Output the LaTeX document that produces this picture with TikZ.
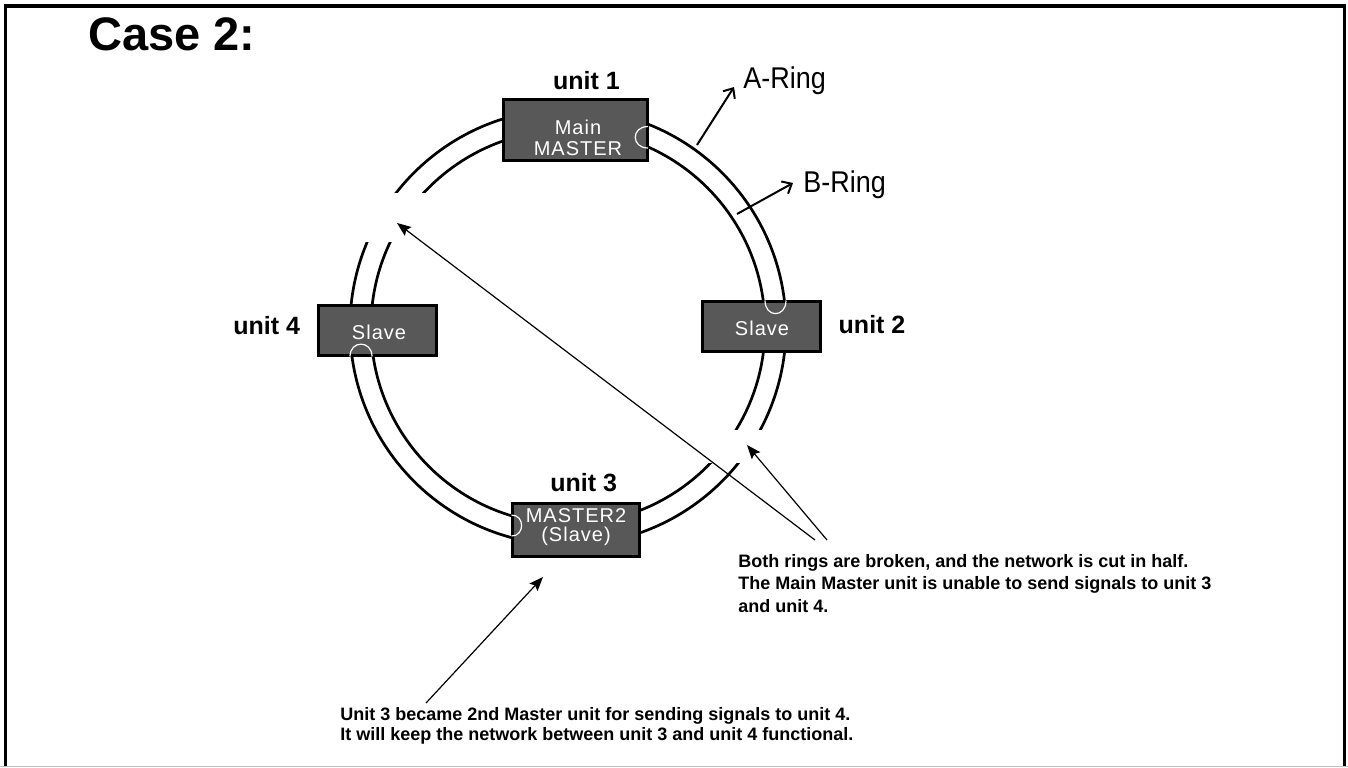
\documentclass[tikz,border=0pt]{standalone}
\usepackage{fontspec}
\setmainfont{Liberation Sans}
\newfontfamily\boxfont[LetterSpace=5]{Liberation Sans}
\newfontfamily\narrowfont[FakeStretch=0.9]{Liberation Sans}
\usetikzlibrary{arrows.meta}
\definecolor{boxgray}{RGB}{88,88,88}
\begin{document}
\begin{tikzpicture}[x=0.5pt,y=-0.5pt,
  unitbox/.style={draw=black, line width=1.4pt, fill=boxgray, inner sep=0pt},
  boxtext/.style={text=white, font=\boxfont\fontsize{10}{10.5}\selectfont, align=center, inner sep=0pt},
  unitlabel/.style={font=\bfseries\fontsize{12.5}{14}\selectfont, inner sep=0pt, anchor=base west},
  ringline/.style={line width=1.35pt},
  loopline/.style={white, line width=0.6pt},
  leader/.style={line width=0.6pt, -{Stealth[length=7pt,width=5.5pt,inset=1.2pt]}},
  ringarrow/.style={line width=1pt, -{Straight Barb[length=4pt,width=7pt]}},
  note/.style={font=\bfseries\fontsize{9}{11.25}\selectfont, align=left, inner sep=0pt, anchor=north west},
  ringname/.style={font=\narrowfont\fontsize{15}{17}\selectfont, inner sep=0pt, anchor=base west}]
\useasboundingbox (0,0) rectangle (1348,767);
% frame
\draw[line width=1.75pt] (5.3,767) -- (5.3,5.8) -- (1344.7,5.8) -- (1344.7,767);
\draw[black!25, line width=0.6pt] (0,766.3) -- (1348,766.3);
% title
\node[font=\bfseries\fontsize{23.5}{26}\selectfont, inner sep=0pt, anchor=base west] (title) at (88,50) {Case 2:};
% rings
\draw[ringline] (568,327) circle (218);
\draw[ringline] (568,327) circle (197);
% breaks in the rings
\fill[white] (340,193) rectangle (436,242);
\fill[white] (700,430) rectangle (778,463);
% units
\node[unitbox, minimum width=72.1pt, minimum height=30.6pt] (u1) at (575.5,130) {};
\node[unitbox, minimum width=59.1pt, minimum height=25.1pt] (u2) at (761.5,326.5) {};
\node[unitbox, minimum width=59.1pt, minimum height=25.1pt] (u4) at (377.5,330.5) {};
\node[unitbox, minimum width=63.6pt, minimum height=26.6pt] (u3) at (576,530) {};
\node[boxtext] (t1) at (578,138) {Main\\MASTER};
\node[boxtext] (t2) at (762,328) {Slave};
\node[boxtext] (t4) at (379,332.5) {Slave};
\node[boxtext, font=\boxfont\fontsize{10}{9.5}\selectfont] (t3) at (576,527.5) {MASTER2\\(Slave)};
% loop-backs
\draw[loopline] (648,126.5) .. controls (631,126.5) and (631,148) .. (648,148);
\draw[loopline] (765,300.5) .. controls (765,318) and (786,318) .. (786,300.5);
\draw[loopline] (350,356.5) .. controls (350,340) and (372,340) .. (372,356.5);
\draw[loopline] (511.5,515) .. controls (525,515) and (525,536) .. (511.5,536);
% unit labels
\node[unitlabel] (l1) at (552.7,89.3) {unit 1};
\node[unitlabel] (l2) at (838.3,333.3) {unit 2};
\node[unitlabel] (l4) at (233,334) {unit 4};
\node[unitlabel] (l3) at (550,491.7) {unit 3};
% ring names
\node[ringname] (ra) at (743,88.3) {A-Ring};
\node[ringname] (rb) at (803,192) {B-Ring};
\coordinate (aon) at (697,145);
\coordinate (ato) at (734,87);
\coordinate (bon) at (737,214);
\coordinate (bto) at (793,183);
\draw[ringarrow] (aon) -- (ato);
\draw[ringarrow] (bon) -- (bto);
% notes
\node[note] (n1) at (738,554) {Both rings are broken, and the network is cut in half.\\The Main Master unit is unable to send signals to unit 3\\and unit 4.};
\node[note, font=\bfseries\fontsize{9}{10}\selectfont] (n2) at (340,707.5) {Unit 3 became 2nd Master unit for sending signals to unit 4.\\It will keep the network between unit 3 and unit 4 functional.};
% leaders
\coordinate (gapa) at (397,223);
\coordinate (gapb) at (747,445);
\coordinate (taila) at (815,540);
\coordinate (tailb) at (827,540);
\coordinate (tailc) at (426,703);
\coordinate (m2) at (543,577);
\draw[leader] (taila) -- (gapa);
\draw[leader] (tailb) -- (gapb);
\draw[leader] (tailc) -- (m2);
\end{tikzpicture}
\end{document}
